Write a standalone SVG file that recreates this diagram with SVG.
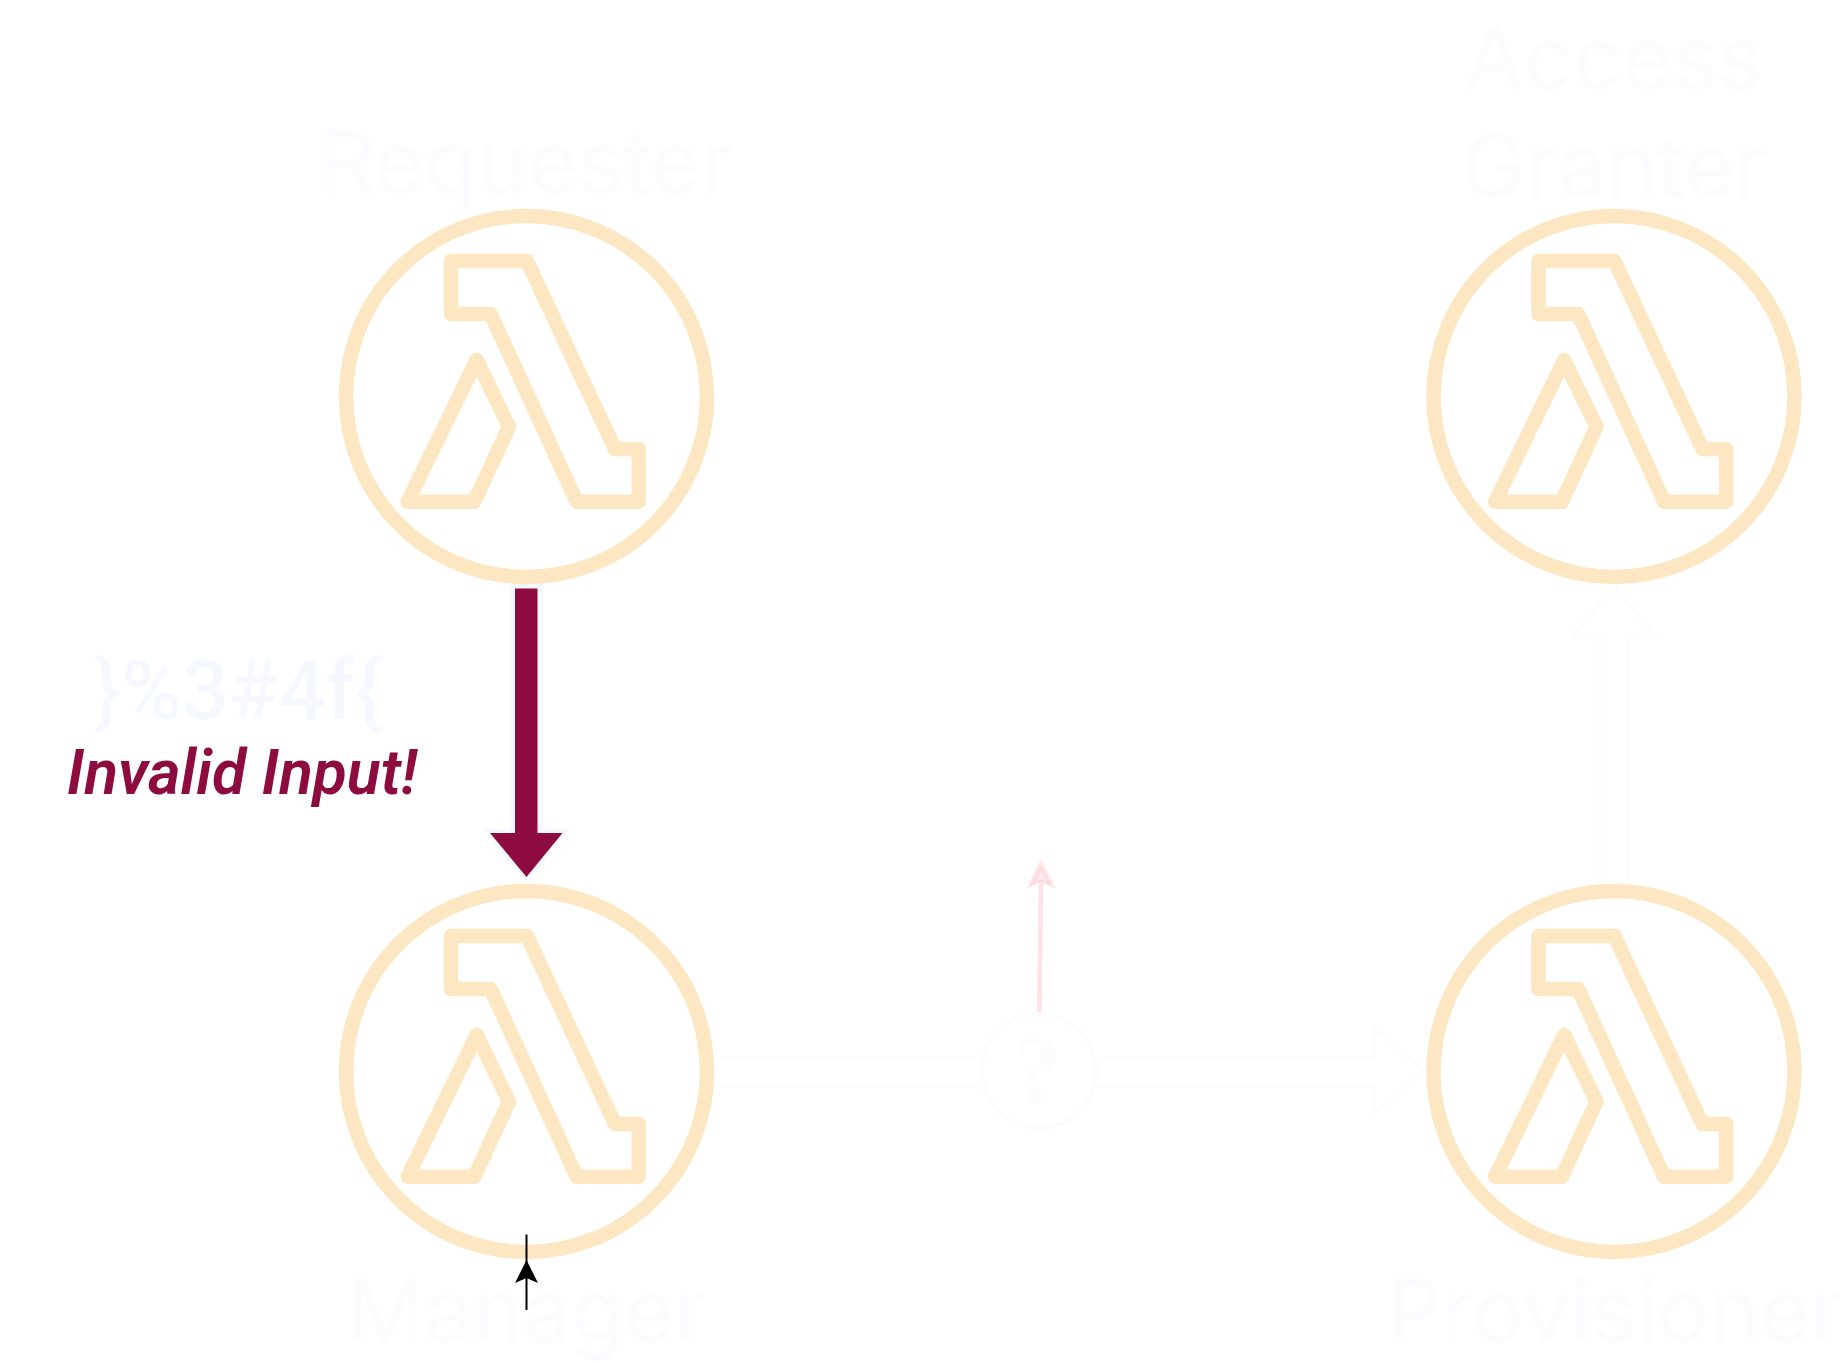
<svg xmlns="http://www.w3.org/2000/svg" width="1843" height="1363" viewBox="0 0 1843 1363">
<style>
.ring{fill:none;stroke:#fde6c2;stroke-width:14.5}
.lam{fill:none;stroke:#fde6c2;stroke-width:14.5;stroke-linejoin:round}
.lbl{font-family:Inter,"Liberation Sans",sans-serif;font-size:86px;fill:#fcfcfe;text-anchor:middle}
.ghost{fill:#fff;stroke:#fcfcfe;stroke-width:3;stroke-linejoin:round}
</style>
<defs>
<g id="lambda">
<circle class="ring" cx="526.5" cy="396.5" r="180.5"/>
<path class="lam" d="M451 261H527L615 449H638.7V501.7H576.7L490.7 314H451Z"/>
<path class="lam" d="M476.7 360L509 426.7L474.3 501.7H407.7Z"/>
</g>
</defs>
<rect width="1843" height="1363" fill="#fff"/>
<g id="connectors">
<path id="manager-to-provisioner" class="ghost" d="M714 1057.5H1374V1028L1425 1071L1374 1113V1086H714"/>
<path id="provisioner-to-granter" class="ghost" d="M1600 883V636.7H1571.7L1614 586L1656.7 636.7H1628V883"/>
<g id="invalid-input-arrow">
<path d="M510 583H543V829H570L526.5 883L483 829H510Z" fill="#f5f8ff"/>
<path d="M515 588.5H537.5V833H562.5L526.5 877L490 833H515Z" fill="#8e0b3f"/>
</g>
<g id="decision-up-arrow">
<path d="M1039.3 1015L1041 878" fill="none" stroke="#fee2e5" stroke-width="4.5"/>
<path d="M1041 859L1056 889L1041 880L1026 889Z" fill="#fee7e9"/>
<path d="M1041 868L1049 884L1041 880L1033 884Z" fill="#fee9eb" stroke="#fdd9dc" stroke-width="2.5"/>
</g>
</g>
<g id="requester"><use href="#lambda"/><text class="lbl" x="526.5" y="193">Requester</text></g>
<g id="granter"><use href="#lambda" x="1087.5"/><text class="lbl" x="1614" y="89">Access</text><text class="lbl" x="1614" y="197">Granter</text></g>
<g id="manager"><use href="#lambda" y="675"/><text class="lbl" x="526.5" y="1342">Manager</text></g>
<g id="provisioner"><use href="#lambda" x="1087.5" y="675"/><text class="lbl" x="1614.5" y="1342">Provisioner</text></g>
<g id="decision">
<circle cx="1039" cy="1071" r="57" fill="#fff" stroke="#fbfcfe" stroke-width="4"/>
<text x="1037" y="1102" font-family="Liberation Serif,serif" font-weight="700" font-size="96" fill="#fbfcfe" text-anchor="middle">?</text>
</g>
<g id="invalid-label">
<text x="238" y="719" font-family="Roboto,sans-serif" font-weight="500" font-size="82.5" fill="#f5f8ff" text-anchor="middle">}%3#4f{</text>
<text x="242" y="794" font-family="Roboto,sans-serif" font-weight="600" font-style="italic" font-size="62.5" fill="#8e0b3f" text-anchor="middle">Invalid Input!</text>
</g>
<g id="black-arrow">
<path d="M526.5 1310V1234.5" fill="none" stroke="#000" stroke-width="2"/>
<path d="M526.5 1260L538 1283L526.5 1278L515 1283Z" fill="#000"/>
</g>
</svg>
